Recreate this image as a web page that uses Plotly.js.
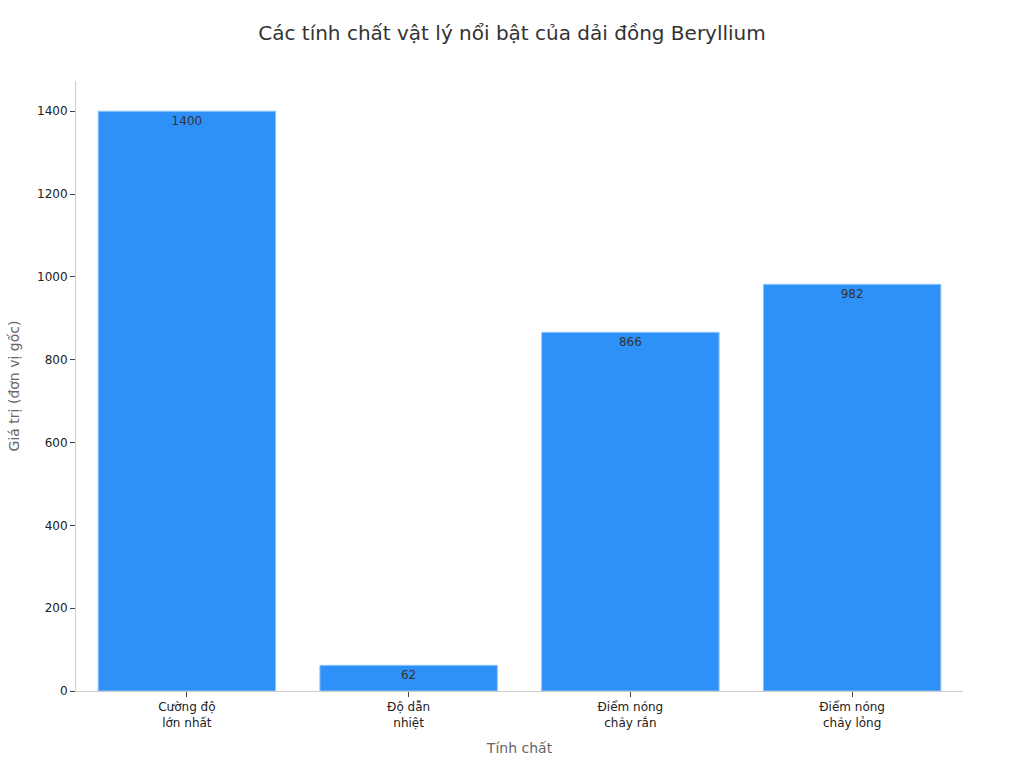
<!DOCTYPE html>
<html>
<head>
<meta charset="utf-8">
<script src="https://cdn.plot.ly/plotly-3.0.1.min.js"></script>
<style>
  html, body { margin: 0; padding: 0; background: #fff; }
  #chart { width: 1024px; height: 768px; }
</style>
</head>
<body>
<div id="chart"></div>
<script>
// danh mục và giá trị
const categories = ['Cường độ<br>lớn nhất', 'Độ dẫn<br>nhiệt', 'Điểm nóng<br>chảy rắn', 'Điểm nóng<br>chảy lỏng'];
const values = [1400, 62, 866, 982];
const labels = ['1400', '62', '866', '982'];

const data = [{
    type: 'bar',
    x: categories,
    y: values,
    text: labels,
    textposition: 'inside',
    insidetextanchor: 'end',
    textfont: { color: '#333', size: 12 },
    marker: { color: '#2e91f8', line: { color: '#8cc4fb', width: 1 } },
    hoverinfo: 'none'
}];

const layout = {
    width: 1024,
    height: 768,
    margin: { l: 76, r: 61, t: 81, b: 77 },
    paper_bgcolor: '#fff',
    plot_bgcolor: '#fff',
    font: { family: 'DejaVu Sans', size: 12, color: '#222' },
    title: { text: 'Các tính chất vật lý nổi bật của dải đồng Beryllium', x: 0.5, y: 0.957, yanchor: 'middle', font: { size: 20, color: '#333' } },
    bargap: 0.2,
    showlegend: false,
    xaxis: {
        title: { text: 'Tính chất', font: { size: 14, color: '#666' }, standoff: 14 },
        showline: true, linecolor: '#ccc', linewidth: 1,
        ticks: 'outside', ticklen: 5, tickcolor: '#444',
        showgrid: false, zeroline: false
    },
    yaxis: {
        title: { text: 'Giá trị (đơn vị gốc)', font: { size: 14, color: '#666' }, standoff: 14 },
        range: [0, 1473],
        dtick: 200,
        showline: true, linecolor: '#ccc', linewidth: 1,
        ticks: 'outside', ticklen: 5, tickcolor: '#444',
        showgrid: false, zeroline: false
    }
};

Plotly.newPlot('chart', data, layout, { displayModeBar: false });
</script>
</body>
</html>
